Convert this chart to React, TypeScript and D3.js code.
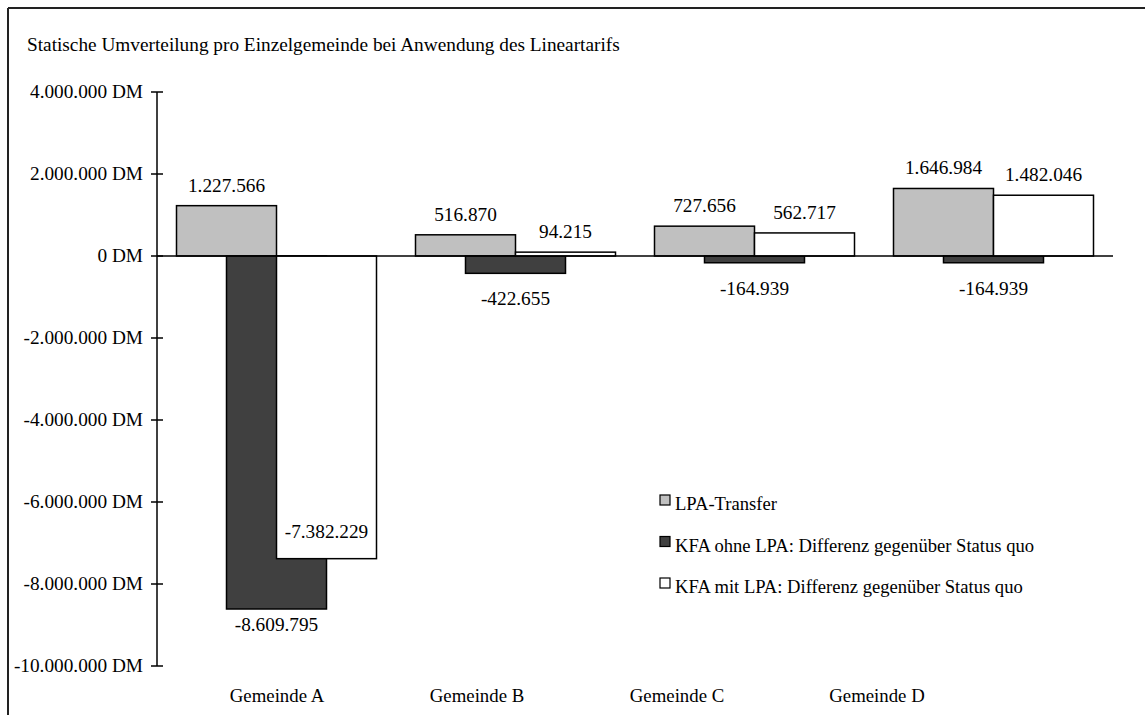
import React from 'react';
import * as d3 from 'd3';

const categories = ['Gemeinde A', 'Gemeinde B', 'Gemeinde C', 'Gemeinde D'];
const lpaTransfer = [1227566, 516870, 727656, 1646984];
const kfaOhneLpa = [-8609795, -422655, -164939, -164939];
const kfaMitLpa = [-7382229, 94215, 562717, 1482046];
const yTicks = [4000000, 2000000, 0, -2000000, -4000000, -6000000, -8000000, -10000000];
const seriesNames = [
  'LPA-Transfer',
  'KFA ohne LPA: Differenz gegenüber Status quo',
  'KFA mit LPA: Differenz gegenüber Status quo',
];
const title = 'Statische Umverteilung pro Einzelgemeinde bei Anwendung des Lineartarifs';

const W = 1145;
const H = 715;
const FONT = '"Liberation Serif", "Times New Roman", serif';
const FS = 19.3;

const fmt = (v: number) => {
  const s = d3.format(',')(Math.abs(v)).replace(/,/g, '.');
  return (v < 0 ? '-' : '') + s;
};

export default function App() {
  const x = d3.scaleBand<string>().domain(categories).range([157, 1113]).padding(0);
  // the category captions sit on their own, tighter grid (as in the original)
  const xLabel = d3.scaleBand<string>().domain(categories).range([177, 977]).padding(0);
  const y = d3.scaleLinear().domain([-10000000, 4000000]).range([666, 92]);

  const barW = 100;
  const groupOffset = (x.bandwidth() - 2 * barW) / 2;

  const series = [
    { values: lpaTransfer, fill: '#c0c0c0', shift: 0 },
    { values: kfaOhneLpa, fill: '#404040', shift: barW / 2 },
    { values: kfaMitLpa, fill: '#ffffff', shift: barW },
  ];

  const y0 = y(0);

  return (
    <div style={{ position: 'absolute', left: 0, top: 0 }}>
      <svg width={W} height={H} style={{ display: 'block', background: '#fff' }}>
        {/* frame */}
        <line x1={8} y1={8} x2={W} y2={8} stroke="#222" strokeWidth={2} />
        <line x1={8} y1={8} x2={8} y2={H} stroke="#222" strokeWidth={2} />

        <text x={27} y={51} fontFamily={FONT} fontSize={FS}>{title}</text>

        {/* y axis */}
        <line x1={157} y1={y(4000000)} x2={157} y2={y(-10000000)} stroke="#000" strokeWidth={1.5} />
        {yTicks.map(t => (
          <g key={t}>
            <line x1={151} x2={163} y1={y(t)} y2={y(t)} stroke="#000" strokeWidth={1.5} />
            <text x={143} y={y(t) + 6} textAnchor="end" fontFamily={FONT} fontSize={FS}>
              {fmt(t)} DM
            </text>
          </g>
        ))}

        {/* bars: gray, dark, then white on top */}
        {series.map((s, si) =>
          categories.map((c, i) => {
            const v = s.values[i];
            const bx = (x(c) || 0) + groupOffset + s.shift;
            const top = Math.min(y(v), y0);
            const h = Math.abs(y(v) - y0);
            return (
              <rect
                key={`${si}-${c}`}
                x={bx}
                y={top}
                width={barW}
                height={h}
                fill={s.fill}
                stroke="#000"
                strokeWidth={1.5}
              />
            );
          })
        )}

        {/* zero line */}
        <line x1={157} x2={1113} y1={y0} y2={y0} stroke="#000" strokeWidth={1.5} />

        {/* value labels */}
        {series.map((s, si) =>
          categories.map((c, i) => {
            const v = s.values[i];
            const cx = (x(c) || 0) + groupOffset + s.shift + barW / 2;
            let ly: number;
            if (v >= 0) ly = y(v) - 14;
            else if (si === 2) ly = y(v) - 21;
            else ly = y(v) + (v < -5000000 ? 22 : 32);
            return (
              <text
                key={`l${si}-${c}`}
                x={cx}
                y={ly}
                textAnchor="middle"
                fontFamily={FONT}
                fontSize={FS}
              >
                {fmt(v)}
              </text>
            );
          })
        )}

        {/* category labels */}
        {categories.map(c => (
          <text
            key={c}
            x={(xLabel(c) || 0) + xLabel.bandwidth() / 2}
            y={702}
            textAnchor="middle"
            fontFamily={FONT}
            fontSize={FS - 0.5}
          >
            {c}
          </text>
        ))}

        {/* legend */}
        {seriesNames.map((name, i) => (
          <g key={name} transform={`translate(660, ${510 + i * 41.5})`}>
            <rect x={0} y={-15} width={10} height={10} fill={series[i].fill} stroke="#000" strokeWidth={1.2} />
            <text x={15} y={0} fontFamily={FONT} fontSize={18.6}>{name}</text>
          </g>
        ))}
      </svg>
    </div>
  );
}
